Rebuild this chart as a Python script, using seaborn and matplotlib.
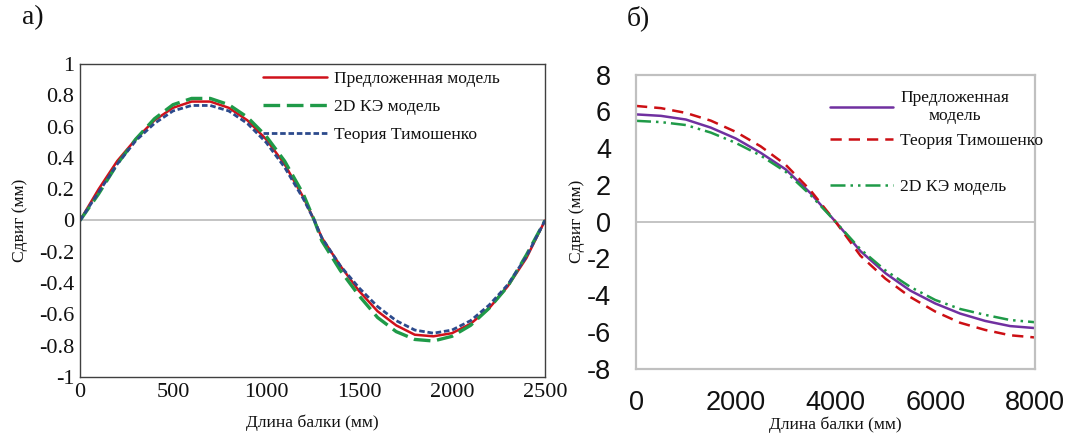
import numpy as np
import pandas as pd
import matplotlib
matplotlib.use("Agg")
import matplotlib.pyplot as plt
import seaborn as sns

# ---- data: panel a ----
x_a = [0, 100, 200, 300, 400, 500, 600, 700, 800, 900, 1000, 1100, 1200, 1260, 1300,
       1400, 1500, 1600, 1700, 1800, 1900, 2000, 2100, 2200, 2300, 2400, 2500]
proposed_a = [0, 0.20, 0.38, 0.52, 0.64, 0.72, 0.76, 0.76, 0.72, 0.64, 0.52, 0.36, 0.15, 0, -0.11,
              -0.29, -0.45, -0.58, -0.67, -0.73, -0.74, -0.72, -0.66, -0.56, -0.42, -0.24, 0]
fe2d_a = [0, 0.17, 0.36, 0.52, 0.65, 0.74, 0.78, 0.78, 0.74, 0.66, 0.54, 0.38, 0.17, 0, -0.13,
          -0.32, -0.48, -0.62, -0.71, -0.76, -0.77, -0.74, -0.67, -0.56, -0.42, -0.22, 0]
timo_a = [0, 0.18, 0.36, 0.51, 0.62, 0.70, 0.735, 0.735, 0.70, 0.62, 0.50, 0.34, 0.14, 0, -0.11,
          -0.29, -0.43, -0.55, -0.64, -0.70, -0.72, -0.70, -0.64, -0.54, -0.41, -0.23, 0]

# ---- data: panel b ----
x_b = [0, 500, 1000, 1500, 2000, 2500, 3000, 3500, 4000, 4500, 5000, 5500, 6000, 6500, 7000, 7500, 8000]
proposed_b = [5.84, 5.76, 5.56, 5.12, 4.53, 3.75, 2.85, 1.55, 0, -1.6, -2.8, -3.75, -4.45, -5.0, -5.4, -5.68, -5.79]
timo_b = [6.30, 6.18, 5.92, 5.50, 4.89, 4.10, 3.10, 1.70, 0, -1.85, -3.1, -4.1, -4.89, -5.5, -5.89, -6.18, -6.30]
fe2d_b = [5.49, 5.42, 5.26, 4.85, 4.29, 3.60, 2.72, 1.45, 0, -1.5, -2.65, -3.55, -4.26, -4.75, -5.07, -5.35, -5.47]

xticks_a = [0, 500, 1000, 1500, 2000, 2500]
yticks_a = [1, 0.8, 0.6, 0.4, 0.2, 0, -0.2, -0.4, -0.6, -0.8, -1]
xticks_b = [0, 2000, 4000, 6000, 8000]
yticks_b = [8, 6, 4, 2, 0, -2, -4, -6, -8]

lab_prop = "Предложенная модель"
lab_prop_b = "Предложенная\nмодель"
lab_fe = "2D КЭ модель"
lab_timo = "Теория Тимошенко"
ylab = "Сдвиг (мм)"
xlab = "Длина балки (мм)"

sns.set_theme(style="white")
plt.rcParams['font.family'] = ['Liberation Serif', 'DejaVu Serif']
plt.rcParams['text.color'] = '#111111'
plt.rcParams['axes.labelcolor'] = '#111111'
plt.rcParams['xtick.color'] = '#111111'
plt.rcParams['ytick.color'] = '#111111'
SERIF = ['Liberation Serif', 'DejaVu Serif']
SANS = ['Liberation Sans', 'DejaVu Sans']
LBL = 12.6

W, H = 1069, 434
fig = plt.figure(figsize=(W / 100, H / 100), dpi=100)

def px_axes(l, r, t, b):
    return fig.add_axes([l / W, 1 - b / H, (r - l) / W, (b - t) / H])

# ---------- panel a ----------
ax1 = px_axes(80, 545, 64, 377)
dfa = pd.DataFrame({"x": x_a, "p": proposed_a, "f": fe2d_a, "t": timo_a})
ax1.axhline(0, color="#bfbfbf", lw=1.3, zorder=1)
sns.lineplot(data=dfa, x="x", y="p", ax=ax1, color="#d0111b", lw=1.8, label=lab_prop, sort=False)
sns.lineplot(data=dfa, x="x", y="f", ax=ax1, color="#1f9a48", lw=2.4, label=lab_fe, sort=False)
sns.lineplot(data=dfa, x="x", y="t", ax=ax1, color="#2c4a8c", lw=2.0, label=lab_timo, sort=False)
lines = ax1.get_lines()
lines[-2].set_dashes((5, 2))
lines[-1].set_dashes((2, 1))
ax1.set_xlim(0, 2500)
ax1.set_ylim(-1, 1)
ax1.set_xticks(xticks_a)
ax1.set_yticks(yticks_a)
ax1.set_xticklabels([f"{v:g}" for v in xticks_a], fontsize=16, family=SERIF)
ax1.set_yticklabels([f"{v:g}" for v in yticks_a], fontsize=16, family=SERIF)
ax1.tick_params(length=0, pad=4)
for s in ax1.spines.values():
    s.set_color("#404040")
    s.set_linewidth(1.0)
ax1.set_xlabel(xlab, fontsize=LBL, family=SERIF, labelpad=9)
ax1.set_ylabel(ylab, fontsize=LBL, family=SERIF, labelpad=8)
h, l = ax1.get_legend_handles_labels()
ax1.legend(h, l, loc="upper left", bbox_to_anchor=(0.37, 1.012), frameon=False,
           prop={"family": SERIF, "size": LBL}, handlelength=3.7, labelspacing=0.68,
           handletextpad=0.4, borderaxespad=0.2)
fig.text(22 / W, 1 - 18 / H, "а)", fontsize=20, family=SERIF, va="center")

# ---------- panel b ----------
ax2 = px_axes(636, 1035, 74.7, 368.7)
dfb = pd.DataFrame({"x": x_b, "p": proposed_b, "t": timo_b, "f": fe2d_b})
ax2.axhline(0, color="#bfbfbf", lw=1.3, zorder=1)
sns.lineplot(data=dfb, x="x", y="p", ax=ax2, color="#7030a0", lw=1.8, label=lab_prop_b, sort=False)
sns.lineplot(data=dfb, x="x", y="t", ax=ax2, color="#cc0f14", lw=1.8, label=lab_timo, sort=False)
sns.lineplot(data=dfb, x="x", y="f", ax=ax2, color="#1f9a48", lw=1.8, label=lab_fe, sort=False)
lines = ax2.get_lines()
lines[-2].set_dashes((4.5, 2.8))
lines[-1].set_dashes((6, 2, 1, 2, 1, 2))
ax2.set_xlim(0, 8000)
ax2.set_ylim(-8, 8)
ax2.set_xticks(xticks_b)
ax2.set_yticks(yticks_b)
ax2.set_xticklabels([f"{v:g}" for v in xticks_b], fontsize=19.5, family=SANS)
ax2.set_yticklabels([f"{v:g}" for v in yticks_b], fontsize=19.5, family=SANS)
ax2.tick_params(axis="x", length=0, pad=15)
ax2.tick_params(axis="y", length=0, pad=18)
for s in ax2.spines.values():
    s.set_color("#c0c0c0")
    s.set_linewidth(1.6)
ax2.set_xlabel(xlab, fontsize=LBL, family=SERIF, labelpad=1)
ax2.set_ylabel(ylab, fontsize=LBL, family=SERIF, labelpad=1)
h, l = ax2.get_legend_handles_labels()
legA = ax2.legend(h[:2], l[:2], loc="upper left", bbox_to_anchor=(0.46, 0.985), frameon=False,
                  prop={"family": SERIF, "size": LBL}, handlelength=3.6, labelspacing=0.5,
                  handletextpad=0.4, borderaxespad=0.2)
for t in legA.get_texts():
    t.set_multialignment("center")
ax2.add_artist(legA)
ax2.legend(h[2:], l[2:], loc="upper left", bbox_to_anchor=(0.46, 0.683), frameon=False,
           prop={"family": SERIF, "size": LBL}, handlelength=3.6,
           handletextpad=0.4, borderaxespad=0.2)
fig.text(627 / W, 1 - 18 / H, "б)", fontsize=20, family=SERIF, va="center")

fig.savefig("out.png", dpi=100)
